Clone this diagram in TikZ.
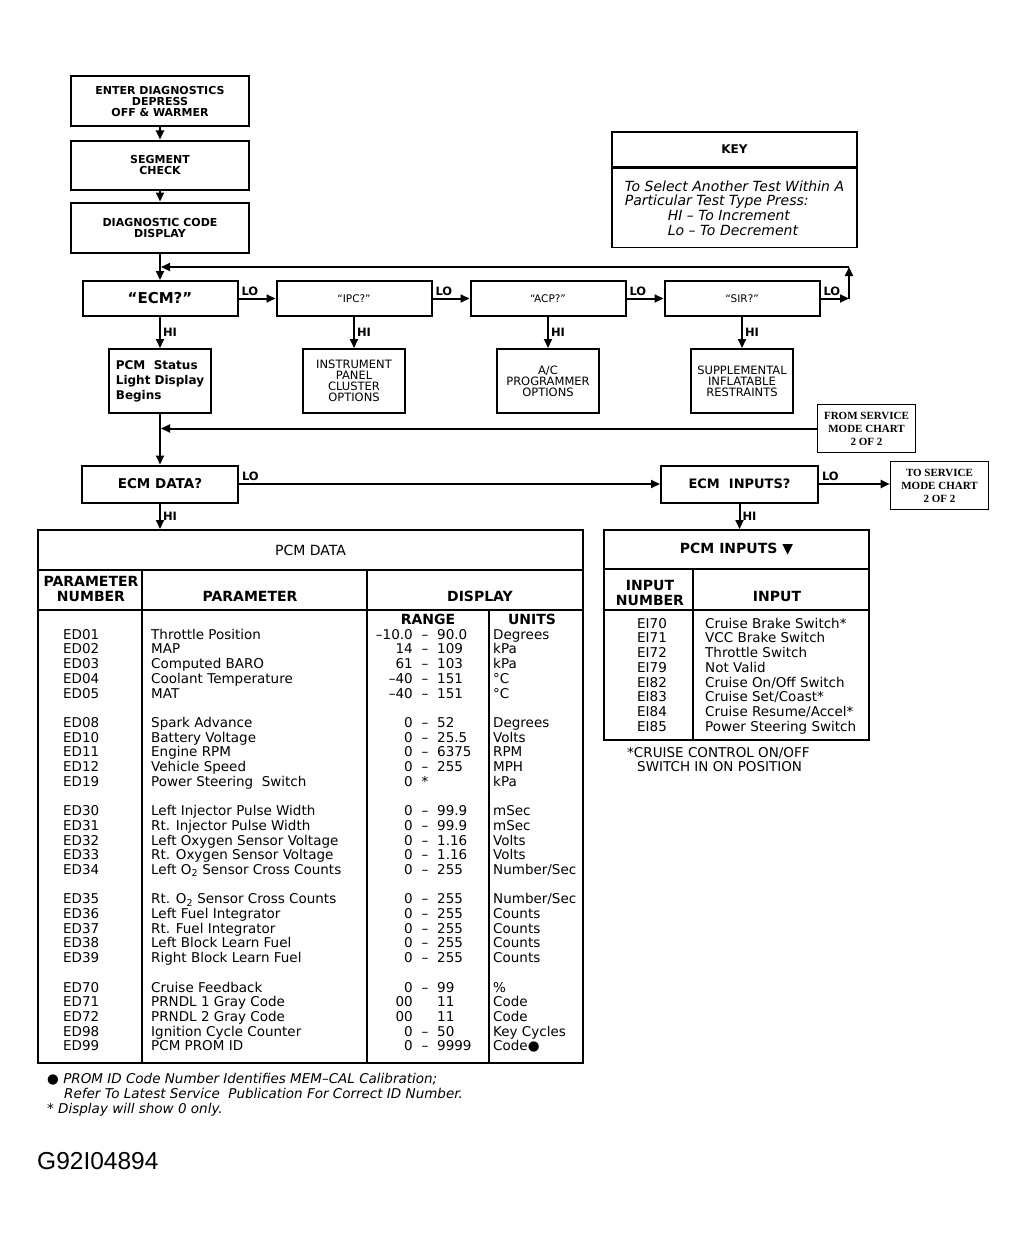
\documentclass[tikz,border=0pt]{standalone}
\usepackage{fontspec}
\setmainfont{DejaVu Sans}
\newfontfamily\chartfont{Liberation Serif}
\newfontfamily\codefont{Liberation Sans}
\usetikzlibrary{positioning,arrows.meta}

\begin{document}
\begin{tikzpicture}[
x=1pt, y=-1pt,
box/.style={rectangle, draw, line width=2pt, align=center, minimum width=178pt, minimum height=50pt, font=\bfseries\fontsize{11}{11}\selectfont},
testbox/.style={rectangle, draw, line width=2pt, minimum width=155pt, minimum height=35pt},
optbox/.style={rectangle, draw, line width=2pt, align=center, minimum width=102pt, minimum height=64pt, inner sep=1pt, font=\fontsize{11.5}{11}\selectfont},
chartbox/.style={rectangle, draw, line width=1.6pt, align=center, minimum width=98pt, minimum height=48pt, inner sep=1pt, font=\chartfont\bfseries\fontsize{11}{13}\selectfont},
headbox/.style={rectangle, draw, line width=2pt, minimum height=40pt},
arr/.style={line width=2pt, -{Triangle[length=9pt,width=8pt]}},
lbl/.style={font=\bfseries\fontsize{11.5}{11}\selectfont, inner sep=2pt},
tbl/.style={line width=2pt},
hdr/.style={font=\bfseries\fontsize{14}{15}\selectfont, align=center, inner sep=0pt},
cell/.style={font=\fontsize{13.5}{14}\selectfont, inner sep=0pt}
]
\useasboundingbox (0,0) rectangle (1026,1244);

% entry chain
\node[box] (enter) at (160,101.5) {ENTER DIAGNOSTICS\\DEPRESS\\OFF \& WARMER};
\node[box, below=12pt of enter, minimum height=49pt] (segment) {SEGMENT\\CHECK};
\node[box, below=11pt of segment] (diag) {DIAGNOSTIC CODE\\DISPLAY};

\draw[arr] (enter) -- (segment);
\draw[arr] (segment) -- (diag);

% key
\node[rectangle, draw, line width=1.6pt, minimum width=245pt, minimum height=35pt, font=\bfseries\fontsize{12}{12}\selectfont] (keyhead) at (734.5,149.5) {KEY};
\node[rectangle, draw, line width=1.6pt, minimum width=245pt, minimum height=79pt, below=0pt of keyhead, align=left, inner sep=2pt, font=\itshape\fontsize{14}{14.7}\selectfont] (keybody) {To Select Another Test Within A\\Particular Test Type Press:\\\hspace*{43pt}HI -- To Increment\\\hspace*{43pt}Lo -- To Decrement};

% test type row
\node[testbox, font=\bfseries\fontsize{15}{15}\selectfont] (ecm) at (160,298.5) {``ECM?''};
\node[testbox, right=37pt of ecm, font=\fontsize{10.5}{10}\selectfont] (ipc) {``IPC?''};
\node[testbox, right=37pt of ipc, font=\fontsize{10.5}{10}\selectfont] (acp) {``ACP?''};
\node[testbox, right=37pt of acp, font=\fontsize{10.5}{10}\selectfont] (sir) {``SIR?''};

\draw[arr] (diag) -- (ecm);
\draw[arr] (ecm) -- node[lbl, pos=0, above right]{LO} (ipc);
\draw[arr] (ipc) -- node[lbl, pos=0, above right]{LO} (acp);
\draw[arr] (acp) -- node[lbl, pos=0, above right]{LO} (sir);

% loop back to ECM?
\coordinate (loopb) at (849,298.5);
\coordinate (loopt) at (849,267);
\draw[arr] (sir) -- node[lbl, pos=0, above right]{LO} (loopb);
\draw[arr] (loopb) -- (loopt);
\draw[arr, shorten >=1pt] (loopt) -- (loopt -| ecm);

% HI options
\node[optbox, below=31pt of ecm, align=left, font=\bfseries\fontsize{12}{15}\selectfont] (pcmstat) {PCM\ \ Status\\Light Display\\Begins};
\node[optbox, below=31pt of ipc] (instr) {INSTRUMENT\\PANEL\\CLUSTER\\OPTIONS};
\node[optbox, below=31pt of acp] (acprog) {A/C\\PROGRAMMER\\OPTIONS};
\node[optbox, below=31pt of sir] (suppl) {SUPPLEMENTAL\\INFLATABLE\\RESTRAINTS};

\draw[arr] (ecm) -- node[lbl, right]{HI} (pcmstat);
\draw[arr] (ipc) -- node[lbl, right]{HI} (instr);
\draw[arr] (acp) -- node[lbl, right]{HI} (acprog);
\draw[arr] (sir) -- node[lbl, right]{HI} (suppl);

% from / to service mode chart
\node[chartbox] (from) at (866.5,428.5) {FROM SERVICE\\MODE CHART\\2 OF 2};
\draw[arr, shorten >=1pt] (from) -- (from -| pcmstat);

\node[testbox, minimum width=156pt, minimum height=37pt, font=\bfseries\fontsize{13.5}{13}\selectfont] (ecmdata) at (160,484) {ECM DATA?};
\node[testbox, minimum width=157pt, minimum height=37pt, font=\bfseries\fontsize{13}{13}\selectfont] (ecminp) at (739.5,484) {ECM\ \ INPUTS?};
\node[chartbox] (to) at (939.5,485.5) {TO SERVICE\\MODE CHART\\2 OF 2};

\draw[arr] (pcmstat) -- (ecmdata);
\draw[arr] (ecmdata) -- node[lbl, pos=0, above right]{LO} (ecminp);
\draw[arr] (ecminp.east) -- node[lbl, pos=0, above right]{LO} (ecminp.east -| to.west);

% PCM data table
\node[headbox, minimum width=545pt, font=\fontsize{14}{14}\selectfont] (pcmdata) at (310.5,550) {PCM DATA};
\draw[arr] (ecmdata.south) -- node[lbl, right]{HI} (ecmdata.south |- pcmdata.north);

\draw[tbl] (38,530) rectangle (583,1063);
\draw[tbl] (38,610) -- (583,610);
\draw[tbl] (142,570) -- (142,1063);
\draw[tbl] (367,570) -- (367,1063);
\draw[tbl] (489,610) -- (489,1063);

\node[hdr] at (91,588.5) {PARAMETER\\NUMBER};
\node[hdr] at (250,596) {PARAMETER};
\node[hdr] at (480,596) {DISPLAY};
\node[hdr] at (428,619) {RANGE};
\node[hdr] at (532,619) {UNITS};

\foreach \i/\num/\prm/\rlo/\rdash/\rhi/\runit in {
  0/ED01/Throttle Position/--10.0/--/90.0/Degrees,
  1/ED02/MAP/14/--/109/kPa,
  2/ED03/Computed BARO/61/--/103/kPa,
  3/ED04/Coolant Temperature/--40/--/151/°C,
  4/ED05/MAT/--40/--/151/°C,
  6/ED08/Spark Advance/0/--/52/Degrees,
  7/ED10/Battery Voltage/0/--/25.5/Volts,
  8/ED11/Engine RPM/0/--/6375/RPM,
  9/ED12/Vehicle Speed/0/--/255/MPH,
  10/ED19/Power Steering\ \ Switch/0/*//kPa,
  12/ED30/Left Injector Pulse Width/0/--/99.9/mSec,
  13/ED31/Rt. Injector Pulse Width/0/--/99.9/mSec,
  14/ED32/Left Oxygen Sensor Voltage/0/--/1.16/Volts,
  15/ED33/Rt. Oxygen Sensor Voltage/0/--/1.16/Volts,
  16/ED34/Left O\textsubscript{2} Sensor Cross Counts/0/--/255/{Number/Sec},
  18/ED35/Rt. O\textsubscript{2} Sensor Cross Counts/0/--/255/{Number/Sec},
  19/ED36/Left Fuel Integrator/0/--/255/Counts,
  20/ED37/Rt. Fuel Integrator/0/--/255/Counts,
  21/ED38/Left Block Learn Fuel/0/--/255/Counts,
  22/ED39/Right Block Learn Fuel/0/--/255/Counts,
  24/ED70/Cruise Feedback/0/--/99/\%,
  25/ED71/PRNDL 1 Gray Code/00//11/Code,
  26/ED72/PRNDL 2 Gray Code/00//11/Code,
  27/ED98/Ignition Cycle Counter/0/--/50/Key Cycles,
  28/ED99/PCM PROM ID/0/--/9999/Code●}
{
  \node[cell, anchor=mid west] at (63,636.5+14.7*\i) {\num};
  \node[cell, anchor=mid west] at (151,636.5+14.7*\i) {\prm};
  \node[cell, anchor=mid east] at (413,636.5+14.7*\i) {\rlo};
  \node[cell, anchor=mid] at (425,636.5+14.7*\i) {\rdash};
  \node[cell, anchor=mid west] at (437,636.5+14.7*\i) {\rhi};
  \node[cell, anchor=mid west] at (493,636.5+14.7*\i) {\runit};
}

% PCM inputs table
\node[headbox, minimum width=265pt, minimum height=39pt, font=\bfseries\fontsize{14}{14}\selectfont] (pcminp) at (736.5,549.5) {PCM INPUTS ▼};
\draw[arr] (ecminp.south) -- node[lbl, right]{HI} (ecminp.south |- pcminp.north);

\draw[tbl] (604,530) rectangle (869,740);
\draw[tbl] (604,610) -- (869,610);
\draw[tbl] (693,569) -- (693,740);

\node[hdr] at (650,592.5) {INPUT\\NUMBER};
\node[hdr] at (777,596) {INPUT};

\foreach \i/\num/\inp in {
  0/EI70/Cruise Brake Switch*,
  1/EI71/VCC Brake Switch,
  2/EI72/Throttle Switch,
  3/EI79/Not Valid,
  4/EI82/{Cruise On/Off Switch},
  5/EI83/{Cruise Set/Coast*},
  6/EI84/{Cruise Resume/Accel*},
  7/EI85/Power Steering Switch}
{
  \node[cell, anchor=mid west] at (637,625.5+14.7*\i) {\num};
  \node[cell, anchor=mid west] at (705,625.5+14.7*\i) {\inp};
}

\node[anchor=north west, align=left, inner sep=0pt, font=\fontsize{13.5}{14.5}\selectfont] (cruisenote) at (627,747) {*CRUISE CONTROL ON/OFF\\\hspace*{10pt}SWITCH IN ON POSITION};

% footnotes
\node[anchor=north west, align=left, inner sep=0pt, font=\itshape\fontsize{13.5}{15}\selectfont] (notes) at (47,1073) {● PROM ID Code Number Identifies MEM--CAL Calibration;\\\hspace*{17pt}Refer To Latest Service\ \ Publication For Correct ID Number.\\* Display will show 0 only.};

\node[anchor=west, inner sep=0pt, font=\codefont\fontsize{24.5}{24}\selectfont] (figcode) at (37,1161) {G92I04894};

\end{tikzpicture}
\end{document}
